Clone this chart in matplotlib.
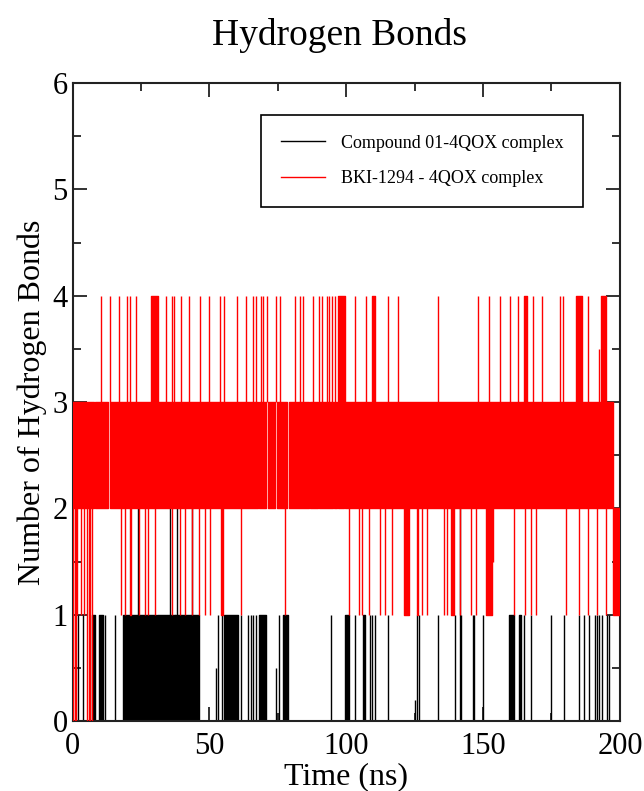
import matplotlib.pyplot as plt
from matplotlib.lines import Line2D

plt.rcParams['font.family'] = ['Liberation Serif', 'DejaVu Serif']

# ---- data (time in ns, H-bond counts) ----
# Compound 01-4QOX complex (black)
black_t = [2.0, 3.8, 12.0, 15.4, 53.1, 54.6, 61.7, 64.1, 65.3, 65.9, 67.1,
           75.3, 94.4, 103.1, 108.7, 109.6, 110.4, 115.1, 125.9, 126.5,
           133.7, 139.8, 141.9, 146.2, 146.8, 150.0, 165.0, 167.4, 174.7,
           179.6, 185.1, 186.9, 188.8, 191.0, 191.6, 192.2, 193.6, 195.4,
           196.0]
black_spans = [(7.1, 8.3), (9.6, 11.1), (18.4, 30.5), (30.7, 37.4),
               (37.6, 46.1), (55.3, 60.4), (68.0, 70.7), (76.8, 78.7),
               (99.6, 100.9), (106.1, 106.7), (159.3, 161.4), (163.2, 163.8)]
black_two_t = [24.0, 35.6, 38.0, 43.5, 141.5]
black_partial = [(52.5, 0.5), (74.3, 0.5), (100.3, 0.2), (125.3, 0.2)]

# BKI-1294 - 4QOX complex (red)
red_band_end = 197.3
red_band_gaps = [8.1, 13.3, 68.0, 71.0, 74.3, 78.7, 86.5, 89.9, 95.4, 96.9, 99.4]
red_up_t = [10.3, 13.8, 16.9, 20.0, 20.9, 23.3, 34.0, 36.3, 37.1, 39.7, 42.4,
            46.7, 49.7, 53.8, 55.2, 60.2, 63.5, 66.0, 67.1, 68.8, 69.6, 71.0,
            74.3, 75.9, 81.4, 83.2, 84.1, 87.8, 89.9, 91.1, 92.9, 93.8, 94.8,
            95.8, 103.1, 107.2, 115.1, 119.1, 133.7, 148.0, 152.2, 156.1,
            159.8, 162.6, 168.4, 171.5, 178.1, 179.3, 188.2]
red_up_spans = [(28.8, 31.2), (97.0, 99.6), (109.6, 110.4), (165.0, 165.9),
                (183.9, 186.3), (193.0, 194.8)]
red_half_up = [(192.4, 3.5)]
red_dip_t = [1.6, 3.2, 4.2, 17.8, 19.1, 24.2, 26.4, 27.6, 30.2, 36.3, 39.1,
             41.0, 43.6, 46.1, 48.5, 50.1, 61.7, 77.5, 100.9, 104.7, 105.7,
             108.2, 112.4, 114.2, 116.7, 127.7, 129.5, 135.8, 136.7, 141.5,
             145.5, 147.6, 161.4, 165.4, 167.5, 169.3, 180.3, 184.9, 188.5,
             191.5, 194.9]
red_dip_spans = [(20.9, 21.5), (54.3, 55.0), (121.0, 122.8), (125.8, 126.4),
                 (138.2, 139.4), (151.0, 153.4), (197.3, 200.0)]
red_half_dip = [(153.7, 1.5)]
red_zero_t = [0.3, 0.8, 1.4, 5.3, 5.9, 6.5, 7.1]

lw = 1.0

fig = plt.figure(figsize=(6.44, 7.91), dpi=100)
ax = fig.add_axes([0.1126, 0.0885, 0.85, 0.8065])

# black set
ax.vlines(black_t, 0, 1, color='black', lw=lw, zorder=2)
ax.broken_barh([(s, e - s) for s, e in black_spans], (0, 1), color='black', zorder=2)
ax.vlines(black_two_t, 0, 2, color='black', lw=lw, zorder=2)
for t, h in black_partial:
    ax.vlines(t, 0, h, color='black', lw=lw, zorder=2)

# red set: 2-3 band split at the gaps
edges = [0.0] + red_band_gaps + [red_band_end]
segs = []
for i in range(len(edges) - 1):
    s = edges[i] + (0.25 if i > 0 else 0)
    e = edges[i + 1] - (0.25 if i + 1 < len(edges) - 1 else 0)
    segs.append((s, e - s))
ax.broken_barh(segs, (2, 1), color='red', zorder=3)
ax.vlines(red_up_t, 3, 4, color='red', lw=lw, zorder=3)
ax.broken_barh([(s, e - s) for s, e in red_up_spans], (3, 1), color='red', zorder=3)
for t, h in red_half_up:
    ax.vlines(t, 3, h, color='red', lw=lw, zorder=3)
ax.vlines(red_dip_t, 1, 2, color='red', lw=lw, zorder=3)
ax.broken_barh([(s, e - s) for s, e in red_dip_spans], (1, 1), color='red', zorder=3)
for t, h in red_half_dip:
    ax.vlines(t, h, 2, color='red', lw=lw, zorder=3)
ax.vlines(red_zero_t, 0, 2, color='red', lw=lw, zorder=3)

ax.set_xlim(0, 200)
ax.set_ylim(0, 6)
ax.set_xticks([0, 50, 100, 150, 200])
ax.set_xticks([25, 75, 125, 175], minor=True)
ax.set_yticks(range(7))
ax.set_yticks([0.5, 1.5, 2.5, 3.5, 4.5, 5.5], minor=True)
ax.tick_params(which='both', direction='in', top=True, right=True,
               labelsize=22, width=1.3, colors='#222222', labelcolor='black')
ax.tick_params(which='major', length=10)
ax.tick_params(which='minor', length=6)
ax.tick_params(axis='x', which='both', pad=8)
for sp in ax.spines.values():
    sp.set_linewidth(1.5)
    sp.set_color('#222222')

ax.set_xlabel('Time (ns)', fontsize=23, labelpad=1)
ax.set_ylabel('Number of Hydrogen Bonds', fontsize=23, labelpad=4)
fig.text(0.527, 0.955, 'Hydrogen Bonds', fontsize=27, ha='center', va='center')

handles = [Line2D([], [], color='black', lw=1),
           Line2D([], [], color='red', lw=1)]
leg = ax.legend(handles, ['Compound 01-4QOX complex', 'BKI-1294 - 4QOX complex'],
                loc='upper left', bbox_to_anchor=(0.345, 0.95), fontsize=13,
                frameon=True, fancybox=False, framealpha=1, edgecolor='black',
                borderpad=1.1, handlelength=2.4, handletextpad=0.9,
                labelspacing=1.0, borderaxespad=0)
leg.get_frame().set_linewidth(1.2)

fig.savefig('out.png', dpi=100)
